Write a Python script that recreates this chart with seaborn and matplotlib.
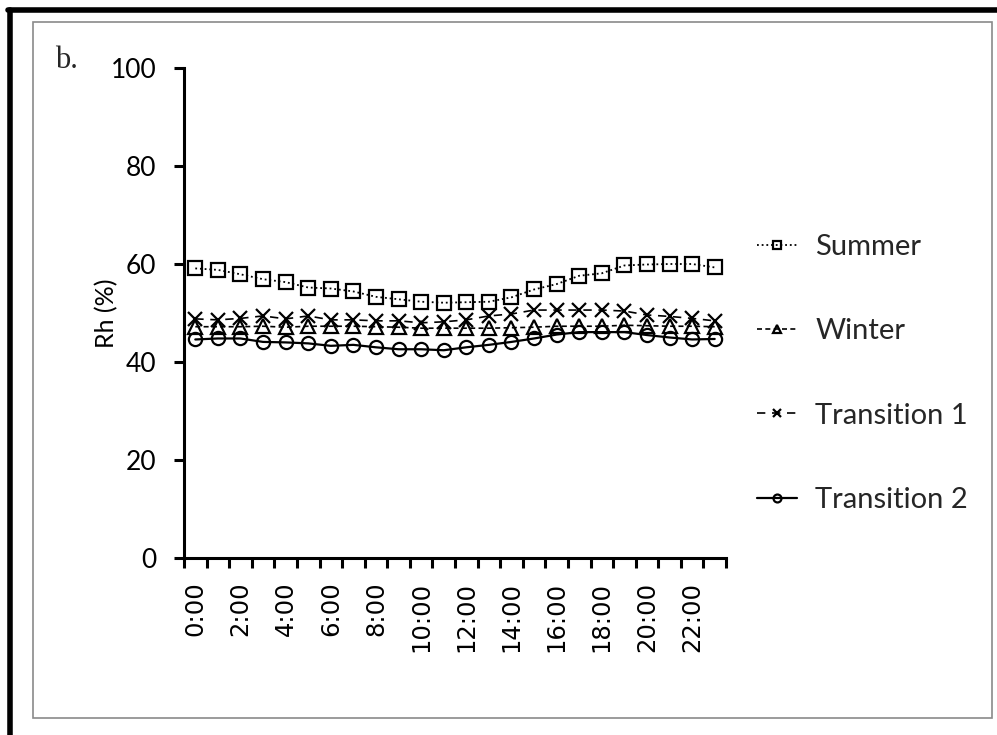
import matplotlib
matplotlib.use("Agg")
import matplotlib.pyplot as plt
from matplotlib.patches import Rectangle
import seaborn as sns
import pandas as pd

# Hourly mean relative humidity (%) by season
hours = [f"{h}:00" for h in range(24)]
summer = [59.1, 58.8, 57.9, 56.9, 56.3, 55.2, 55.0, 54.4, 53.3, 52.8, 52.3, 52.1,
          52.2, 52.3, 53.2, 54.8, 55.9, 57.6, 58.1, 59.7, 59.9, 60.0, 60.0, 59.3]
winter = [47.2, 47.2, 47.2, 47.3, 47.1, 47.3, 47.3, 47.3, 47.2, 47.1, 46.9, 46.9,
          46.9, 46.9, 47.0, 47.1, 47.3, 47.3, 47.3, 47.5, 47.4, 47.3, 47.3, 47.2]
transition1 = [48.8, 48.6, 48.9, 49.4, 48.8, 49.4, 48.6, 48.6, 48.4, 48.4, 48.0, 48.2,
               48.6, 49.4, 49.8, 50.6, 50.6, 50.6, 50.6, 50.4, 49.6, 49.3, 48.9, 48.4]
transition2 = [44.6, 44.8, 44.8, 44.1, 44.0, 43.8, 43.3, 43.5, 43.0, 42.6, 42.6, 42.4,
               43.0, 43.5, 44.1, 44.8, 45.6, 46.1, 46.1, 46.1, 45.5, 45.0, 44.6, 44.7]
series_names = ["Summer", "Winter", "Transition 1", "Transition 2"]
y_ticks = [0, 20, 40, 60, 80, 100]

sns.set_theme(style="white")
plt.rcParams["font.family"] = ["Lato", "DejaVu Sans"]

df = pd.DataFrame({"pos": range(24), "hour": hours,
                   "Summer": summer, "Winter": winter,
                   "Transition 1": transition1, "Transition 2": transition2})

fig = plt.figure(figsize=(9.97, 7.35), dpi=100)
fig.patch.set_facecolor("white")
ax = fig.add_axes([184 / 997, 1 - 558 / 735, 542 / 997, 490 / 735])

styles = {
    "Summer":       dict(marker="s", linestyle=(0, (1, 1.6)), lw=1.3),
    "Winter":       dict(marker="^", linestyle=(0, (3, 2)), lw=1.2),
    "Transition 1": dict(marker="x", linestyle=(0, (5, 4)), lw=1.2),
    "Transition 2": dict(marker="o", linestyle="-", lw=1.6),
}

for name in series_names:
    st = styles[name]
    sns.lineplot(data=df, x="pos", y=name, ax=ax, color="black",
                 linestyle=st["linestyle"], linewidth=st["lw"],
                 marker=st["marker"], markersize=9.5,
                 markerfacecolor="none" if st["marker"] != "x" else "black",
                 markeredgecolor="black", markeredgewidth=1.6,
                 label=name)

ax.set_xlim(-0.5, 23.5)
ax.set_ylim(0, 100)
ax.set_yticks(y_ticks)
ax.set_xticks(list(range(0, 24, 2)))
ax.set_xticklabels(hours[::2], rotation=90, family="DejaVu Sans")
ax.set_xticks([i - 0.5 for i in range(25)], minor=True)
ax.tick_params(axis="x", which="major", length=0, pad=17, labelsize=17.5, colors="black")
ax.tick_params(axis="x", which="minor", length=7, width=2.2, direction="out",
               color="black", bottom=True)
ax.tick_params(axis="y", which="major", length=7, width=2.2, direction="out",
               pad=13, labelsize=19, colors="black", left=True)
ax.set_xlabel("")
ax.set_ylabel("Rh (%)", fontsize=18, color="black")
ax.yaxis.set_label_coords(-0.122, 0.5)

for side in ["top", "right"]:
    ax.spines[side].set_visible(False)
for side in ["left", "bottom"]:
    ax.spines[side].set_linewidth(2.2)
    ax.spines[side].set_color("black")

handles, labels = ax.get_legend_handles_labels()
ax.legend(handles, labels, loc="center left",
          bbox_to_anchor=(757 / 997, 1 - 373.5 / 735), bbox_transform=fig.transFigure,
          frameon=False, fontsize=21, handlelength=1.38, handletextpad=0.62,
          labelspacing=2.0, markerscale=0.6, borderpad=0, borderaxespad=0)

fig.text(55 / 997, 1 - 60 / 735, "b.", fontsize=22, family="Liberation Serif",
         va="center", ha="left")

# page frame: gray inner box and heavy black outer edge
fig.patches.append(Rectangle((32.5 / 997, 1 - 718 / 735), (991.5 - 32.5) / 997,
                             (718 - 22) / 735, transform=fig.transFigure,
                             fill=False, edgecolor="#8a8a8a", linewidth=1.2))
fig.add_artist(plt.Line2D([9.5 / 997, 9.5 / 997], [1 - 10 / 735, 0],
                          transform=fig.transFigure, color="black", linewidth=4))
fig.add_artist(plt.Line2D([7.5 / 997, 1], [1 - 9.5 / 735, 1 - 9.5 / 735],
                          transform=fig.transFigure, color="black", linewidth=4))

fig.savefig("out.png", dpi=100)
